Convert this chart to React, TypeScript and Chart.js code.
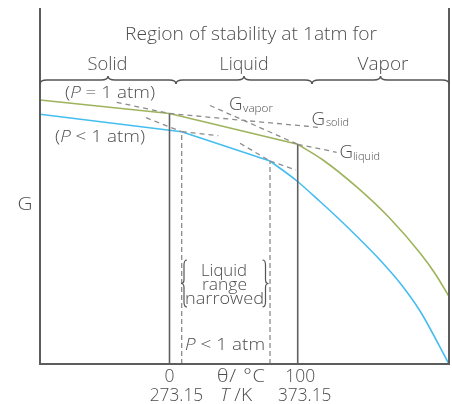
import React, { useEffect, useRef } from "react";
import { Chart, registerables } from "chart.js";

Chart.register(...registerables);

// θ/°C on x, G (arbitrary units) on y
// P = 1 atm
const solid1T = [-101, 0];
const solid1G = [264, 250.5];
const liquid1T = [0, 100];
const liquid1G = [250.5, 219.7];
const vapor1T = [100, 119.7, 146.2, 172, 195.4, 207.1, 218];
const vapor1G = [219.7, 204, 176.8, 145.5, 111, 90.5, 67.5];

// P < 1 atm
const solidLowT = [-101, 9.5];
const solidLowG = [249.7, 232.3];
const liquidLowT = [9.5, 78.4];
const liquidLowG = [232.3, 203];
const vaporLowT = [78.4, 99.4, 117.4, 133, 148.6, 164.2, 179.8, 195.4, 218];
const vaporLowG = [203, 183, 162.5, 144, 124.5, 104, 81, 53, 0];

// dashed extrapolations
const liqExt1T = [-41.2, 0];
const liqExt1G = [261.7, 250.5];
const solExt1T = [0, 117.4];
const solExt1G = [250.5, 236.5];
const vapExt1T = [31.6, 100];
const vapExt1G = [258.5, 219.7];
const liqExt1bT = [100, 130.4];
const liqExt1bG = [219.7, 211.7];
const liqExtLowT = [-18.3, 9.5];
const liqExtLowG = [246.3, 232.3];
const solExtLowT = [9.5, 38.1];
const solExtLowG = [232.3, 228.3];
const vapExtLowT = [55, 78.4];
const vapExtLowG = [220.7, 203];
const liqExtLowbT = [78.4, 98.7];
const liqExtLowbG = [203, 194];

// transition temperatures (vertical markers) and the G where they meet the curves
const transT = [0, 100];
const transG = [250.5, 219.7];
const transLowT = [9.5, 78.4];
const transLowG = [232.3, 203];

// tick labels
const tickValues = [0, 100];
const celsiusLabels = ["0", "100"];
const kelvinLabels = ["273.15", "373.15"];

const GREEN = "#9db35c";
const BLUE = "#45bdf0";
const DASH = "#8c8c8c";
const AXIS = "#5c5c5c";
const TEXT = "#4d4d4d";
const FONT = "'Open Sans', 'DejaVu Sans', sans-serif";

const zip = (t: number[], g: number[]) => t.map((x, i) => ({ x, y: g[i] }));

function line(data: any, color: string, width: number, dash: number[] = [], curve = false) {
  return {
    data,
    borderColor: color,
    borderWidth: width,
    borderDash: dash,
    pointRadius: 0,
    fill: false,
    tension: 0,
    cubicInterpolationMode: curve ? "monotone" : "default",
    clip: false,
  } as any;
}

const fontOf = (size: number, it: boolean) => `${it ? "italic " : ""}300 ${size}px ${FONT}`;

// draw text parts centred at cx, widened (mostly by horizontal scaling) to a target width
function fit(
  ctx: CanvasRenderingContext2D,
  parts: [string, boolean][] | string,
  cx: number,
  y: number,
  size: number,
  targetW?: number,
  align: "center" | "left" = "center"
) {
  const ps: [string, boolean][] = typeof parts === "string" ? [[parts, false]] : parts;
  const c: any = ctx;
  c.letterSpacing = "0px";
  ctx.textBaseline = "alphabetic";
  ctx.textAlign = "left";
  let w0 = 0;
  let n = 0;
  const ws = ps.map(([s, it]) => {
    ctx.font = fontOf(size, it);
    const w = ctx.measureText(s).width;
    w0 += w;
    n += [...s].length;
    return w;
  });
  const tw = targetW ?? w0;
  const sx = Math.max(0.85, Math.min(tw / w0, 1.14));
  const ls = n > 1 ? (tw / sx - w0) / (n - 1) : 0;
  const x0 = align === "center" ? cx - tw / 2 : cx;
  ctx.save();
  ctx.translate(x0, y);
  ctx.scale(sx, 1);
  let x = 0;
  ps.forEach(([s, it], i) => {
    ctx.font = fontOf(size, it);
    c.letterSpacing = `${ls}px`;
    ctx.fillText(s, x, 0);
    x += ws[i] + ls * [...s].length;
  });
  c.letterSpacing = "0px";
  ctx.restore();
}

function hBrace(ctx: CanvasRenderingContext2D, x0: number, x1: number, y: number) {
  const m = (x0 + x1) / 2;
  ctx.beginPath();
  ctx.moveTo(x0, y + 4);
  ctx.quadraticCurveTo(x0, y, x0 + 7, y);
  ctx.lineTo(m - 7, y);
  ctx.quadraticCurveTo(m, y, m, y - 4);
  ctx.quadraticCurveTo(m, y, m + 7, y);
  ctx.lineTo(x1 - 7, y);
  ctx.quadraticCurveTo(x1, y, x1, y + 4);
  ctx.stroke();
}

function vBrace(ctx: CanvasRenderingContext2D, x: number, y0: number, y1: number, dir: number) {
  const m = (y0 + y1) / 2;
  ctx.beginPath();
  ctx.moveTo(x - 3 * dir, y0);
  ctx.quadraticCurveTo(x, y0, x, y0 + 5);
  ctx.lineTo(x, m - 4);
  ctx.quadraticCurveTo(x, m, x + 3 * dir, m);
  ctx.quadraticCurveTo(x, m, x, m + 4);
  ctx.lineTo(x, y1 - 5);
  ctx.quadraticCurveTo(x, y1, x - 3 * dir, y1);
  ctx.stroke();
}

const decor = {
  id: "decor",
  afterDraw(chart: any) {
    const ctx: CanvasRenderingContext2D = chart.ctx;
    const { left, right, top, bottom } = chart.chartArea;
    const xs = chart.scales.x;
    ctx.save();
    // frame
    ctx.strokeStyle = AXIS;
    ctx.lineWidth = 2;
    ctx.beginPath();
    ctx.moveTo(left, top);
    ctx.lineTo(left, bottom);
    ctx.lineTo(right, bottom);
    ctx.lineTo(right, top);
    ctx.stroke();

    ctx.fillStyle = TEXT;
    fit(ctx, "Region of stability at 1atm for", 251, 40, 17.5, 252);
    fit(ctx, "Solid", 107.5, 70, 17.5, 40);
    fit(ctx, "Liquid", 244, 70, 17.5, 49);
    fit(ctx, "Vapor", 383, 70, 17.5, 51);

    ctx.strokeStyle = "#555";
    ctx.lineWidth = 1.5;
    hBrace(ctx, left, 176, 80);
    hBrace(ctx, 176, 312, 80);
    hBrace(ctx, 312, right, 80);

    fit(ctx, [["(", false], ["P", true], [" = 1 atm)", false]], 110, 98, 16.5, 90);
    fit(ctx, [["(", false], ["P", true], [" < 1 atm)", false]], 100, 142, 16.5, 90);

    // G labels
    fit(ctx, "G", 25, 210, 19, 15);
    fit(ctx, "G", 229, 110, 18.5, 13.5, "left");
    fit(ctx, "vapor", 243, 112, 11.5, 30, "left");
    fit(ctx, "G", 311.5, 125, 18.5, 13.5, "left");
    fit(ctx, "solid", 326, 126, 11.5, 23, "left");
    fit(ctx, "G", 339.5, 158, 18.5, 13.5, "left");
    fit(ctx, "liquid", 353, 160, 11.5, 27, "left");

    // liquid range narrowed box
    fit(ctx, "Liquid", 224, 276, 16, 46);
    fit(ctx, "range", 224.5, 290, 16, 45);
    fit(ctx, "narrowed", 224.5, 304, 16, 79);
    ctx.lineWidth = 1.2;
    vBrace(ctx, 184, 260, 307, -1);
    vBrace(ctx, 265.5, 260, 307, 1);
    fit(ctx, [["P", true], [" < 1 atm", false]], 225, 350, 16.5, 80);

    // ticks
    tickValues.forEach((v, i) => {
      const px = xs.getPixelForValue(v);
      fit(ctx, celsiusLabels[i], px + (i === 1 ? 2.5 : 0), 382, 17.5, i === 1 ? 30 : undefined);
      fit(ctx, kelvinLabels[i], px + 7, 401, 17.5, 53.5);
    });
    fit(ctx, "θ/ °C", 241, 382, 17.5, 48);
    fit(ctx, [["T", true], [" /K", false]], 236, 401, 17.5, 32);
    ctx.restore();
  },
};

export default function App() {
  const ref = useRef<HTMLCanvasElement>(null);
  useEffect(() => {
    if (!ref.current) return;
    const vert = (t: number[], g: number[], i: number) => [
      { x: t[i], y: 0 },
      { x: t[i], y: g[i] },
    ];
    const chart = new Chart(ref.current, {
      type: "line",
      data: {
        datasets: [
          line(zip(liqExt1T, liqExt1G), DASH, 1.3, [5, 4]),
          line(zip(solExt1T, solExt1G), DASH, 1.3, [5, 4]),
          line(zip(vapExt1T, vapExt1G), DASH, 1.3, [5, 4]),
          line(zip(liqExt1bT, liqExt1bG), DASH, 1.3, [5, 4]),
          line(zip(liqExtLowT, liqExtLowG), DASH, 1.3, [5, 4]),
          line(zip(solExtLowT, solExtLowG), DASH, 1.3, [5, 4]),
          line(zip(vapExtLowT, vapExtLowG), DASH, 1.3, [5, 4]),
          line(zip(liqExtLowbT, liqExtLowbG), DASH, 1.3, [5, 4]),
          line(vert(transT, transG, 0), "#606060", 1.6),
          line(vert(transT, transG, 1), "#606060", 1.6),
          line(vert(transLowT, transLowG, 0), DASH, 1.3, [5, 3]),
          line(vert(transLowT, transLowG, 1), DASH, 1.3, [5, 3]),
          line(zip(solid1T, solid1G), GREEN, 1.6),
          line(zip(liquid1T, liquid1G), GREEN, 1.6),
          line(zip(vapor1T, vapor1G), GREEN, 1.6, [], true),
          line(zip(solidLowT, solidLowG), BLUE, 1.6),
          line(zip(liquidLowT, liquidLowG), BLUE, 1.6),
          line(zip(vaporLowT, vaporLowG), BLUE, 1.6, [], true),
        ],
      },
      options: {
        animation: false,
        responsive: false,
        devicePixelRatio: 1,
        layout: { padding: { left: 40, right: 3, top: 8, bottom: 40 } },
        scales: {
          x: { type: "linear", min: -101, max: 218, display: false },
          y: { type: "linear", min: 0, max: 356, display: false },
        },
        plugins: { legend: { display: false }, tooltip: { enabled: false } },
        events: [],
      },
      plugins: [decor],
    });
    return () => chart.destroy();
  }, []);
  return (
    <div style={{ position: "fixed", left: 0, top: 0, width: 452, height: 404, background: "#fff" }}>
      <canvas ref={ref} width={452} height={404} />
    </div>
  );
}
